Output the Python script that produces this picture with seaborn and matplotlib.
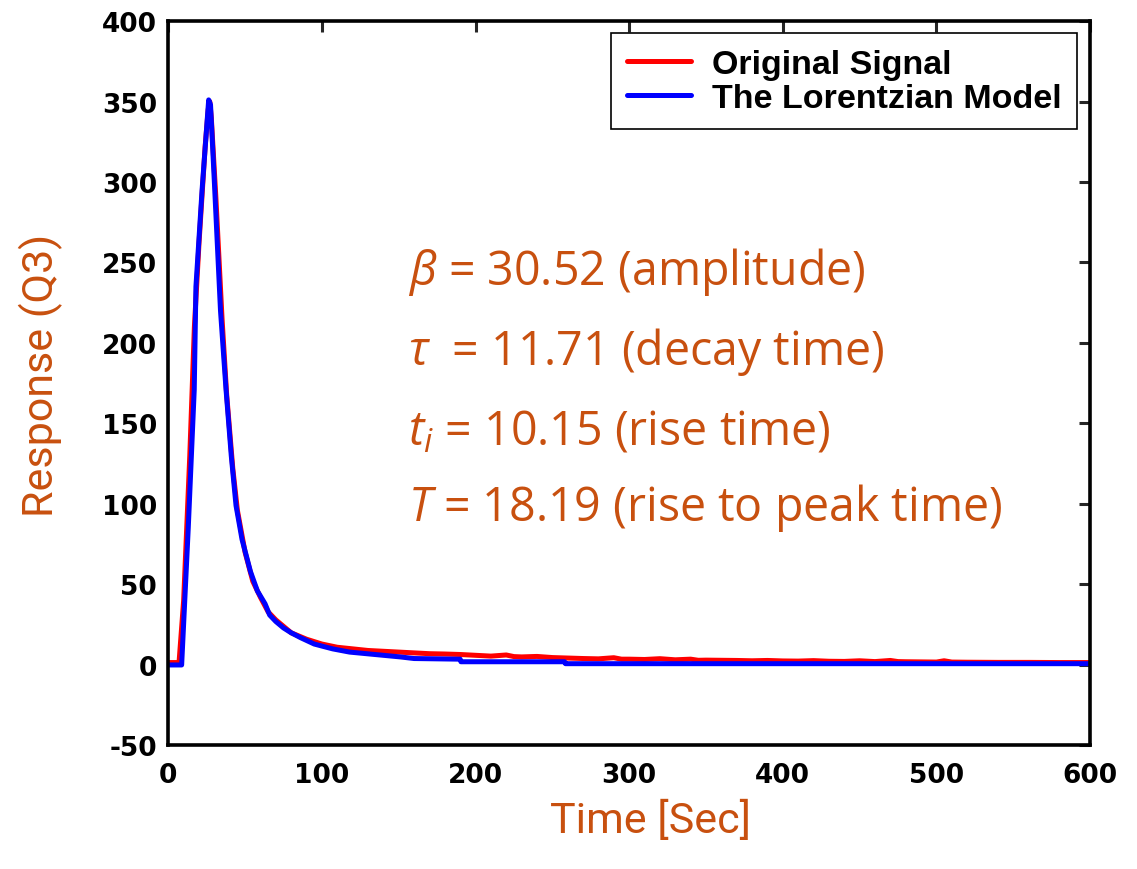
import numpy as np
import pandas as pd
import matplotlib
matplotlib.use("Agg")
import matplotlib.pyplot as plt
from matplotlib import font_manager
import seaborn as sns

# ---- data ----
sig_t = [0, 7, 10, 14, 17, 20, 24, 26, 27, 28, 31, 35, 38, 42, 45, 50, 55, 60, 65,
         70, 75, 80, 90, 100, 110, 120, 130, 140, 150, 160, 170, 180, 190, 200,
         210, 220, 225, 230, 240, 250, 260, 270, 280, 290, 295, 300, 310, 320,
         330, 340, 345, 350, 360, 370, 380, 390, 400, 410, 420, 430, 440, 450,
         460, 470, 475, 480, 490, 500, 505, 510, 520, 540, 560, 580, 600]
sig_v = [1.5, 1.5, 40, 130, 210, 262, 322, 345, 350, 340, 290, 215, 168, 122, 96,
         70, 52, 42, 33, 28, 24, 20, 16, 13, 11, 10, 9, 8.5, 8, 7.5, 7, 6.8, 6.5,
         6, 5.5, 6.2, 5.2, 5, 5.3, 4.6, 4.3, 4.0, 3.8, 4.5, 3.6, 3.6, 3.4, 3.9,
         3.2, 3.6, 2.9, 3.0, 2.9, 2.8, 2.6, 2.8, 2.5, 2.4, 2.7, 2.3, 2.2, 2.6,
         2.1, 2.8, 2.1, 2.0, 1.9, 1.8, 2.6, 1.8, 1.7, 1.6, 1.6, 1.5, 1.5]

mod_t = [0, 8.7, 13, 16.9, 18, 22, 26.3, 27.5, 30, 34, 37.6, 41, 44.1, 48, 53.5,
         58, 63, 66, 70, 75, 80, 86, 95, 107, 118, 129, 140, 151, 160, 190, 190.5,
         258, 258.5, 600]
mod_v = [0, 0, 85, 171, 235, 295, 351, 348, 300, 220, 171, 130, 99, 78, 58,
         46, 38, 31, 27, 23, 20, 17, 13, 10, 8, 7, 6, 5, 4, 3.6, 2, 2, 0.8, 0.8]

x_ticks = [0, 100, 200, 300, 400, 500, 600]
y_ticks = [-50, 0, 50, 100, 150, 200, 250, 300, 350, 400]

annotations = [r"$\beta$ = 30.52 (amplitude)",
               r"$\tau$  = 11.71 (decay time)",
               r"$t_i$ = 10.15 (rise time)",
               r"$T$ = 18.19 (rise to peak time)"]
ann_y = [245, 195, 145, 98]
ann_x = 156

# ---- style ----
sns.set_style("white")
avail = {f.name for f in font_manager.fontManager.ttflist}
label_font = "Roboto" if "Roboto" in avail else "DejaVu Sans"
ann_font = "Open Sans" if "Open Sans" in avail else label_font
leg_font = "Liberation Sans" if "Liberation Sans" in avail else "DejaVu Sans"
plt.rcParams["font.family"] = ["DejaVu Sans"]
plt.rcParams["axes.unicode_minus"] = False
plt.rcParams["mathtext.fontset"] = "custom"
plt.rcParams["mathtext.it"] = f"{ann_font}:italic"
plt.rcParams["mathtext.rm"] = ann_font

orange = "#C8500F"

fig = plt.figure(figsize=(11.37, 8.7), dpi=100)
ax = fig.add_axes([0.148, 0.142, 0.8107, 0.8327])

sig = pd.DataFrame({"t": sig_t, "v": sig_v})
mod = pd.DataFrame({"t": mod_t, "v": mod_v})
sns.lineplot(data=sig, x="t", y="v", color="#FF0000", lw=3.6, ax=ax,
             label="Original Signal", sort=False)
sns.lineplot(data=mod, x="t", y="v", color="#0000FF", lw=3.6, ax=ax,
             label="The Lorentzian Model", sort=False)

ax.set_xlim(0, 600)
ax.set_ylim(-50, 400)
ax.set_xticks(x_ticks)
ax.set_yticks(y_ticks)
ax.tick_params(direction="in", length=8, width=2.2, top=True, right=True,
               labelsize=19, labelcolor="black")
ax.tick_params(axis="x", pad=12)
ax.tick_params(axis="y", pad=8)
for lab in ax.get_xticklabels() + ax.get_yticklabels():
    lab.set_fontweight("bold")
for s in ax.spines.values():
    s.set_linewidth(2.6)
    s.set_color("black")

ax.set_xlabel("Time [Sec]", fontsize=31, color=orange, family=label_font)
ax.set_ylabel("Response (Q3)", fontsize=31, color=orange, family=label_font)
ax.xaxis.set_label_coords(0.523, -0.075)
ax.yaxis.set_label_coords(-0.114, 0.512)

for txt, yv in zip(annotations, ann_y):
    ax.text(ann_x, yv, txt, fontsize=33.5, color=orange, family=ann_font,
            va="center", ha="left")

leg = ax.legend(loc="upper right", bbox_to_anchor=(0.9855, 0.983), fancybox=False,
                edgecolor="black", framealpha=1,
                prop={"family": leg_font, "weight": "bold", "size": 24.5},
                handlelength=1.9, handletextpad=0.6, borderpad=0.45,
                labelspacing=0.1, borderaxespad=0)
leg.get_frame().set_linewidth(1.2)
for t in leg.get_texts():
    t.set_color("black")

fig.savefig("out.png", dpi=100)
